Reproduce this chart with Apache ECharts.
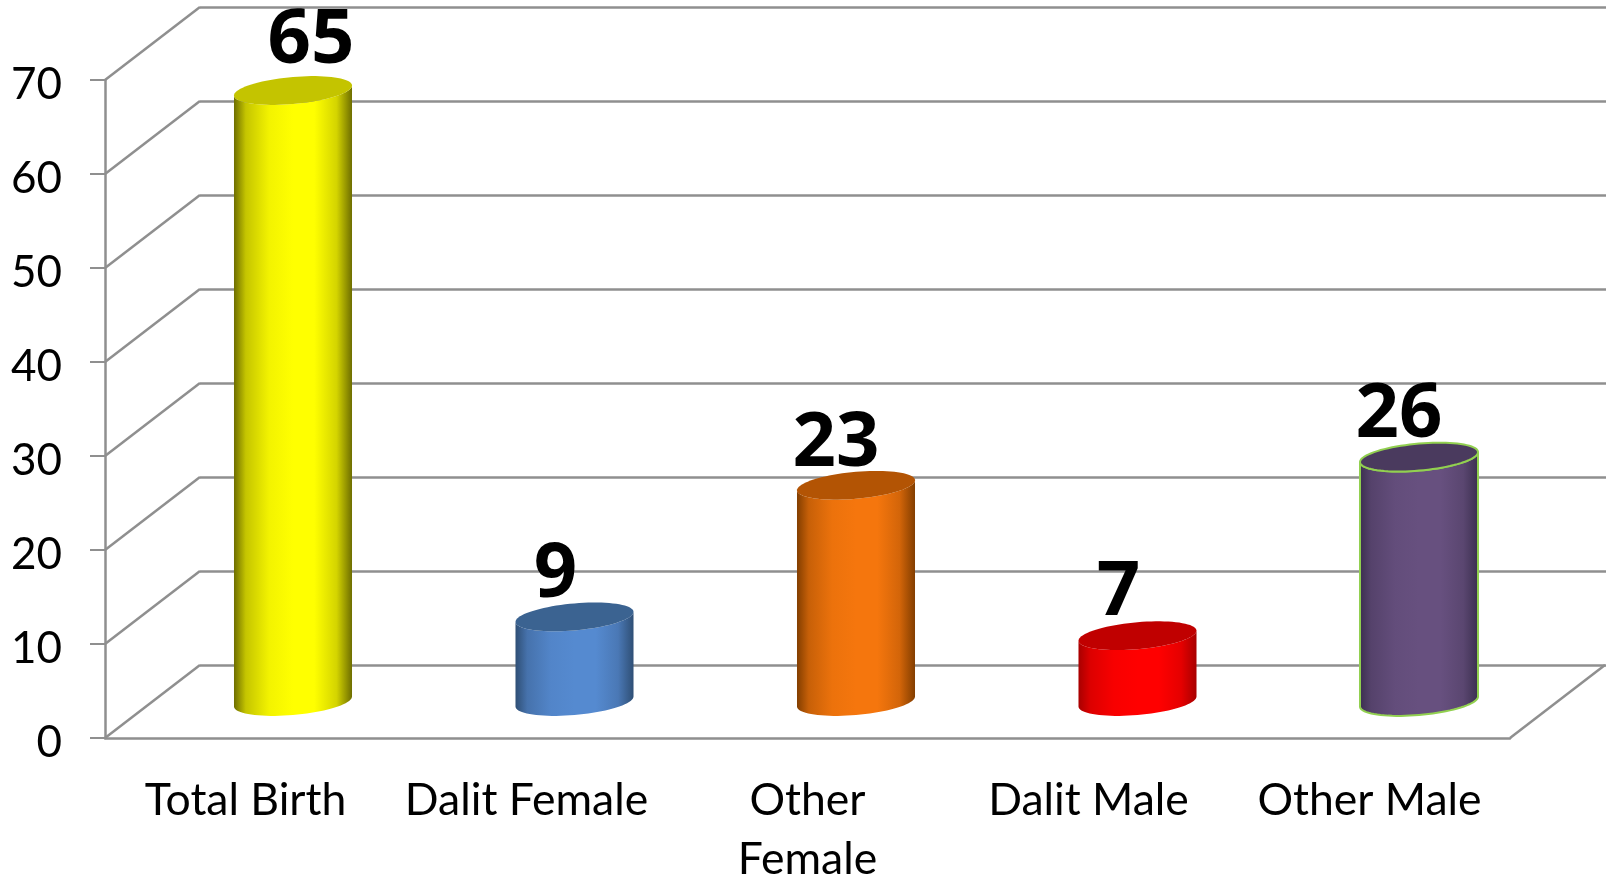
<!DOCTYPE html>
<html>
<head>
<meta charset="utf-8">
<style>html,body{margin:0;padding:0;background:#fff}#c{width:1608px;height:881px}</style>
<script src="https://cdn.jsdelivr.net/npm/echarts@6/dist/echarts.min.js"></script>
</head>
<body>
<div id="c"></div>
<script>
const categories = ['Total Birth', 'Dalit Female', 'Other\nFemale', 'Dalit Male', 'Other Male'];
const values = [65, 9, 23, 7, 26];
const yTicks = [0, 10, 20, 30, 40, 50, 60, 70];
const edgeColors = ['#6e6e00', '#2f4f75', '#833e00', '#a80000', '#3a2e4e'];
const midColors = ['#ffff00', '#558ad0', '#f5760d', '#ff0000', '#67507f'];
const capColors = ['#c4c400', '#3b6391', '#b35404', '#c00000', '#4a3a5e'];
const borderColors = [null, null, null, null, '#92d050'];
const labelShiftX = [18, -19, -20, -19, -20];
const labelShiftY = [-49, -42, -41, -42, -42];

const DEPTH_X = 95, DEPTH_Y = -73;
const LINE = '#8f8f8f';
const FONT = 'Lato, "Open Sans", sans-serif';
const VALUE_FONT = '"Open Sans", Lato, sans-serif';

function ring(cx, cy, a, b, shear, from, to, n) {
  const pts = [];
  for (let i = 0; i <= n; i++) {
    const t = from + (to - from) * i / n;
    pts.push([cx + a * Math.cos(t), cy + b * Math.sin(t) - shear * Math.cos(t)]);
  }
  return pts;
}

function renderCylinder(params, api) {
  const i = params.dataIndex;
  const top = api.coord([api.value(0), api.value(1)]);
  const base = api.coord([api.value(0), 0]);
  const band = api.size([1, 0])[0];
  const a = band * 0.21, b = 13.5, shear = 5;
  const cx = top[0] + DEPTH_X / 2 + i * 0.5;
  const ty = top[1] + DEPTH_Y / 2;
  const by = base[1] + DEPTH_Y / 2;
  const body = ring(cx, by, a, b, shear, 0, Math.PI, 40)
    .concat(ring(cx, ty, a, b, shear, Math.PI, 0, 40));
  const cap = ring(cx, ty, a, b, shear, 0, Math.PI * 2, 80);
  const stroke = borderColors[i];
  const mix = t => echarts.color.lerp(t, [edgeColors[i], midColors[i]]);
  return {
    type: 'group',
    children: [
      {
        type: 'polygon',
        shape: { points: body },
        style: {
          fill: new echarts.graphic.LinearGradient(0, 0, 1, 0, [
            { offset: 0, color: edgeColors[i] },
            { offset: 0.1, color: mix(0.6) },
            { offset: 0.3, color: mix(0.92) },
            { offset: 0.5, color: midColors[i] },
            { offset: 0.68, color: midColors[i] },
            { offset: 0.87, color: mix(0.7) },
            { offset: 1, color: edgeColors[i] }
          ]),
          stroke: stroke || 'none',
          lineWidth: stroke ? 2 : 0
        }
      },
      {
        type: 'polygon',
        shape: { points: cap },
        style: { fill: capColors[i], stroke: stroke || 'none', lineWidth: stroke ? 2 : 0 }
      },
      {
        type: 'text',
        z2: 10,
        style: {
          x: cx + labelShiftX[i],
          y: ty + labelShiftY[i],
          text: String(values[i]),
          fill: '#000',
          font: 'bold 76px ' + VALUE_FONT,
          align: 'center',
          verticalAlign: 'middle'
        }
      }
    ]
  };
}

function renderDepthLine(params, api) {
  const p = api.coord([0, api.value(0)]);
  const sys = params.coordSys;
  const style = { stroke: LINE, lineWidth: 2.5, fill: 'none' };
  const children = [{
    type: 'line',
    shape: { x1: sys.x, y1: p[1], x2: sys.x + DEPTH_X, y2: p[1] + DEPTH_Y },
    style
  }];
  if (api.value(0) === 0) {
    children.push({
      type: 'line',
      shape: { x1: sys.x + sys.width, y1: p[1], x2: sys.x + sys.width + DEPTH_X, y2: p[1] + DEPTH_Y },
      style
    });
  }
  return { type: 'group', children };
}

const chart = echarts.init(document.getElementById('c'), null, { renderer: 'canvas' });
chart.setOption({
  animation: false,
  backgroundColor: '#fff',
  grid: [
    { left: 105, right: 98, top: 80, bottom: 143, outerBoundsMode: 'none' },
    { left: 200, right: 2, top: 7, bottom: 216, outerBoundsMode: 'none' }
  ],
  xAxis: [
    {
      type: 'category',
      gridIndex: 0,
      data: categories,
      axisLine: { lineStyle: { color: LINE, width: 2.5 } },
      axisTick: { length: 15, lineStyle: { color: LINE, width: 2 } },
      axisLabel: { interval: 0, color: '#000', fontFamily: FONT, fontSize: 44.5, lineHeight: 59, margin: 33 }
    },
    { type: 'category', gridIndex: 1, data: categories, show: false }
  ],
  yAxis: [
    {
      type: 'value',
      gridIndex: 0,
      min: 0,
      max: 70,
      interval: 10,
      axisLine: { show: true, lineStyle: { color: LINE, width: 2.5 } },
      axisTick: { show: true, length: 15, lineStyle: { color: LINE, width: 2 } },
      axisLabel: {
        margin: 43,
        formatter: '{t|{value}}',
        rich: { t: { color: '#000', fontFamily: FONT, fontSize: 44, padding: [9, 0, 0, 0] } }
      },
      splitLine: { show: false }
    },
    {
      type: 'value',
      gridIndex: 1,
      min: 0,
      max: 70,
      interval: 10,
      axisLine: { show: false },
      axisTick: { show: false },
      axisLabel: { show: false },
      splitLine: { show: true, lineStyle: { color: LINE, width: 2.5 } }
    }
  ],
  series: [
    {
      type: 'custom',
      name: 'depth',
      xAxisIndex: 0,
      yAxisIndex: 0,
      clip: false,
      silent: true,
      z: 1,
      data: yTicks.map(v => [v]),
      encode: { y: 0 },
      renderItem: renderDepthLine
    },
    {
      type: 'custom',
      name: 'Births',
      xAxisIndex: 0,
      yAxisIndex: 0,
      clip: false,
      z: 5,
      data: values.map((v, i) => [i, v]),
      encode: { x: 0, y: 1 },
      renderItem: renderCylinder
    }
  ]
});
</script>
</body>
</html>
